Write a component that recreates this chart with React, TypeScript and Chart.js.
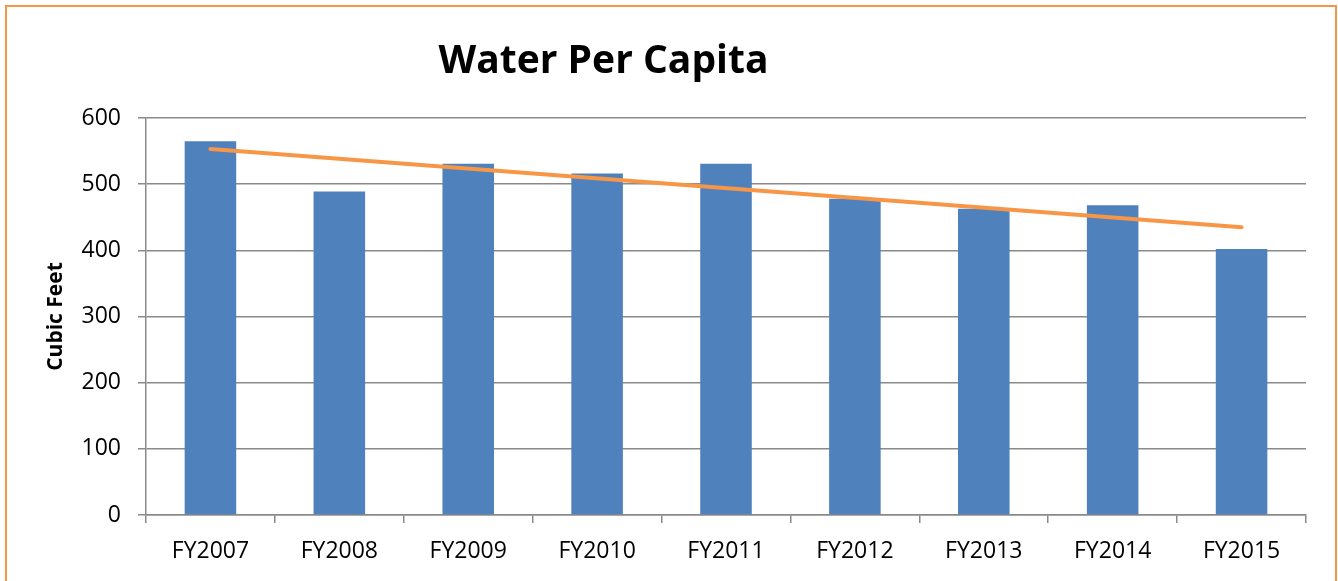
import React, { useEffect, useRef } from "react";
import { Chart, registerables } from "chart.js";

Chart.register(...registerables);

const categories = ["FY2007", "FY2008", "FY2009", "FY2010", "FY2011", "FY2012", "FY2013", "FY2014", "FY2015"];
const waterPerCapita = [565, 489, 531, 516, 531, 478, 463, 468, 402];
const trendLine = [553, null, null, null, null, null, null, null, 435];
const yTicks = [0, 100, 200, 300, 400, 500, 600];
const chartTitle = "Water Per Capita";
const yAxisTitle = "Cubic Feet";

const FONT = "'Open Sans', 'Noto Sans', sans-serif";
const GRID = "#8A8A8A";

const titlePlugin = {
  id: "customTitle",
  afterDraw(chart: any) {
    const ctx = chart.ctx;
    ctx.save();
    ctx.font = `bold 39px ${FONT}`;
    ctx.fillStyle = "#000";
    ctx.textAlign = "center";
    ctx.textBaseline = "alphabetic";
    ctx.fillText(chartTitle, 603.5, 73);
    ctx.restore();
  },
};

export default function App() {
  const ref = useRef<HTMLCanvasElement | null>(null);
  useEffect(() => {
    if (!ref.current) return;
    const chart = new Chart(ref.current, {
      type: "bar",
      data: {
        labels: categories,
        datasets: [
          {
            type: "line",
            label: "Trend",
            data: trendLine as any,
            borderColor: "#F79646",
            borderWidth: 4,
            borderCapStyle: "round",
            pointRadius: 0,
            spanGaps: true,
            order: 0,
          } as any,
          {
            type: "bar",
            label: "Water Per Capita",
            data: waterPerCapita,
            backgroundColor: "#4F81BD",
            barPercentage: 0.4,
            categoryPercentage: 1,
            order: 1,
          },
        ],
      },
      options: {
        responsive: false,
        animation: false,
        layout: { padding: { left: 0, right: 32, top: 118, bottom: 0 } },
        plugins: {
          legend: { display: false },
          tooltip: { enabled: false },
          title: { display: false },
        },
        scales: {
          x: {
            grid: {
              offset: true,
              drawOnChartArea: false,
              drawTicks: true,
              tickLength: 8,
              color: GRID,
              lineWidth: 1.5,
            },
            border: { color: GRID, width: 1.5 },
            ticks: {
              color: "#000",
              font: { family: FONT, size: 23 },
              padding: 15,
              maxRotation: 0,
            },
            afterFit: (s: any) => {
              s.height = 66;
            },
          },
          y: {
            min: 0,
            max: 600,
            afterBuildTicks: (s: any) => {
              s.ticks = yTicks.map((v) => ({ value: v }));
            },
            grid: {
              color: GRID,
              lineWidth: 1.5,
              drawTicks: true,
              tickLength: 8,
            },
            border: { color: GRID, width: 1.5 },
            ticks: {
              color: "#000",
              font: { family: FONT, size: 23 },
              padding: 17,
            },
            title: {
              display: true,
              text: yAxisTitle,
              color: "#000",
              font: { family: FONT, size: 21, weight: "bold" },
              padding: { top: 43, bottom: 0 },
            },
            afterFit: (s: any) => {
              s.width = 146;
            },
          },
        },
      },
      plugins: [titlePlugin],
    });
    return () => chart.destroy();
  }, []);

  return (
    <div
      style={{
        position: "fixed",
        left: 0,
        top: 0,
        width: 1338,
        height: 581,
        overflow: "hidden",
        background: "#fff",
      }}
    >
      <canvas ref={ref} width={1338} height={581} style={{ position: "absolute", left: 0, top: 0 }} />
      <div
        style={{
          position: "absolute",
          left: 5,
          top: 5,
          width: 1332,
          height: 700,
          border: "2px solid #F79646",
          boxSizing: "border-box",
          pointerEvents: "none",
        }}
      />
    </div>
  );
}
